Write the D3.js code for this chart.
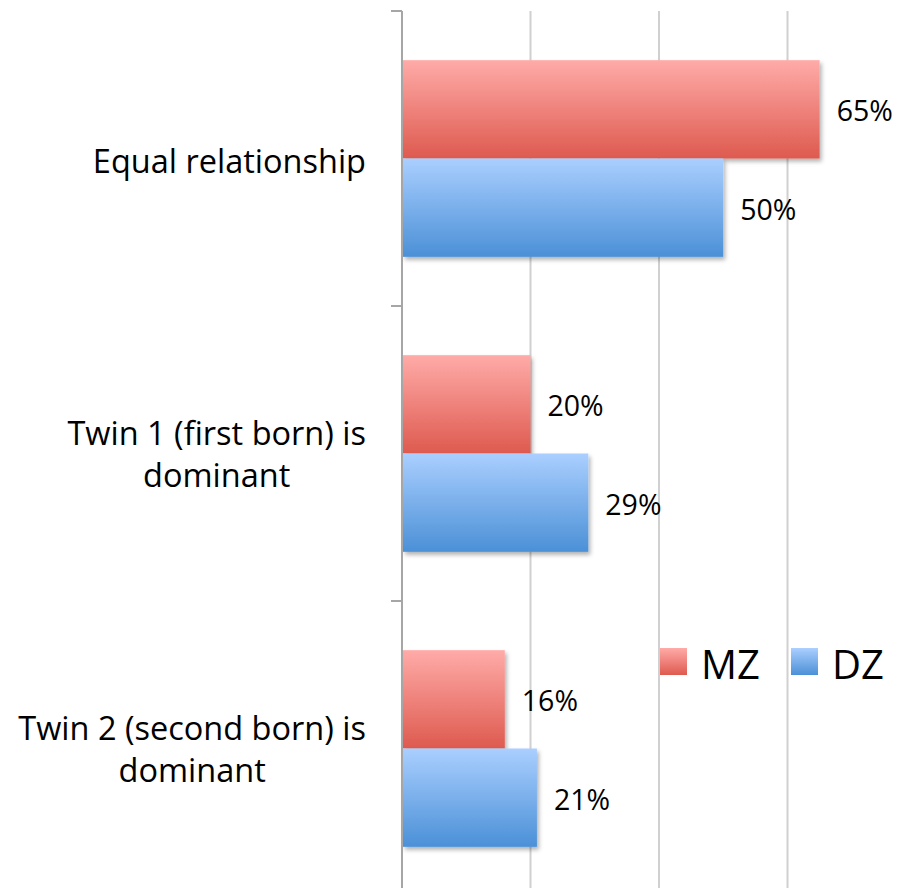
<!DOCTYPE html>
<html>
<head>
<meta charset="utf-8">
<script src="https://cdn.jsdelivr.net/npm/d3@7"></script>
<style>
  html, body { margin: 0; padding: 0; background: #fff; }
  svg { display: block; font-family: "Open Sans", sans-serif; }
</style>
</head>
<body>
<svg id="chart"></svg>
<script>
// data
const categories = ["Equal relationship", "Twin 1 (first born) is\ndominant", "Twin 2 (second born) is\ndominant"];
const seriesNames = ["MZ", "DZ"];
const mzValues = [65, 20, 16];
const dzValues = [50, 29, 21];
const gridTicks = [20, 40, 60, 80];

const W = 904, H = 888;
const svg = d3.select("#chart").attr("width", W).attr("height", H);

const rows = categories.map((c, i) => ({cat: c, MZ: mzValues[i], DZ: dzValues[i]}));

// scales
const x = d3.scaleLinear().domain([0, 80]).range([402, 916]);
const y = d3.scaleBand().domain(categories).range([11, 896]);
const ySub = d3.scaleBand().domain(seriesNames).range([0, y.bandwidth()]).paddingOuter(0.5);

// gradients + shadow
const defs = svg.append("defs");
const grads = {
  MZ: ["#ffaba8", "#de5a4f"],
  DZ: ["#aacfff", "#4b90d7"]
};
seriesNames.forEach(s => {
  const g = defs.append("linearGradient").attr("id", "g" + s)
    .attr("x1", 0).attr("y1", 0).attr("x2", 0).attr("y2", 1);
  g.append("stop").attr("offset", "0%").attr("stop-color", grads[s][0]);
  g.append("stop").attr("offset", "100%").attr("stop-color", grads[s][1]);
});
defs.append("filter").attr("id", "shadow")
  .attr("x", "-5%").attr("y", "-5%").attr("width", "120%").attr("height", "130%")
  .append("feDropShadow")
  .attr("dx", 2).attr("dy", 3).attr("stdDeviation", 2)
  .attr("flood-color", "#000").attr("flood-opacity", 0.3);

// gridlines
svg.append("g").selectAll("line")
  .data(gridTicks).join("line")
  .attr("x1", d => x(d)).attr("x2", d => x(d))
  .attr("y1", 11).attr("y2", H)
  .attr("stroke", "#d0d0d0").attr("stroke-width", 2);

// bars
const groups = svg.append("g").selectAll("g")
  .data(rows).join("g")
  .attr("transform", d => `translate(0,${y(d.cat)})`);

groups.selectAll("rect")
  .data(d => seriesNames.map(s => ({s: s, v: d[s]})))
  .join("rect")
  .attr("x", x(0) + 1)
  .attr("y", d => ySub(d.s))
  .attr("width", d => x(d.v) - x(0) - 1)
  .attr("height", ySub.bandwidth())
  .attr("fill", d => `url(#g${d.s})`)
  .attr("filter", "url(#shadow)");

groups.selectAll("text.val")
  .data(d => seriesNames.map(s => ({s: s, v: d[s]})))
  .join("text")
  .attr("class", "val")
  .attr("x", d => x(d.v) + 17)
  .attr("y", d => ySub(d.s) + ySub.bandwidth() / 2)
  .attr("dy", "0.42em")
  .attr("font-size", 28.5)
  .attr("fill", "#000")
  .text(d => d.v + "%");

// axis line and ticks at band edges
const axis = svg.append("g");
axis.append("line")
  .attr("x1", x(0)).attr("x2", x(0))
  .attr("y1", 11).attr("y2", H)
  .attr("stroke", "#a6a6a6").attr("stroke-width", 2);
axis.selectAll("line.tick")
  .data(categories.map(c => y(c)).concat([y.range()[1]]))
  .join("line")
  .attr("class", "tick")
  .attr("x1", x(0) - 11).attr("x2", x(0))
  .attr("y1", d => d).attr("y2", d => d)
  .attr("stroke", "#a6a6a6").attr("stroke-width", 2);

// category labels
const labelRight = 366, lineH = 42;
categories.forEach(c => {
  const lines = c.split("\n");
  const t = svg.append("text")
    .attr("font-size", 32.5)
    .attr("fill", "#000")
    .attr("text-anchor", "middle");
  const cy = y(c) + y.bandwidth() / 2;
  const spans = lines.map((l, i) => t.append("tspan")
    .attr("y", cy + (i - (lines.length - 1) / 2) * lineH)
    .attr("dy", lines.length > 1 ? "0.38em" : "0.44em")
    .text(l));
  const maxW = d3.max(spans, s => s.node().getComputedTextLength());
  spans.forEach(s => s.attr("x", labelRight - maxW / 2));
});

// legend
const legend = svg.append("g").attr("transform", "translate(660,648)");
const li = legend.selectAll("g").data(seriesNames).join("g")
  .attr("transform", (d, i) => `translate(${i * 131},0)`);
li.append("rect").attr("width", 27).attr("height", 27)
  .attr("fill", d => `url(#g${d})`);
li.append("text").attr("x", 41).attr("y", 31)
  .attr("font-size", 40).attr("fill", "#000")
  .text(d => d);
</script>
</body>
</html>
